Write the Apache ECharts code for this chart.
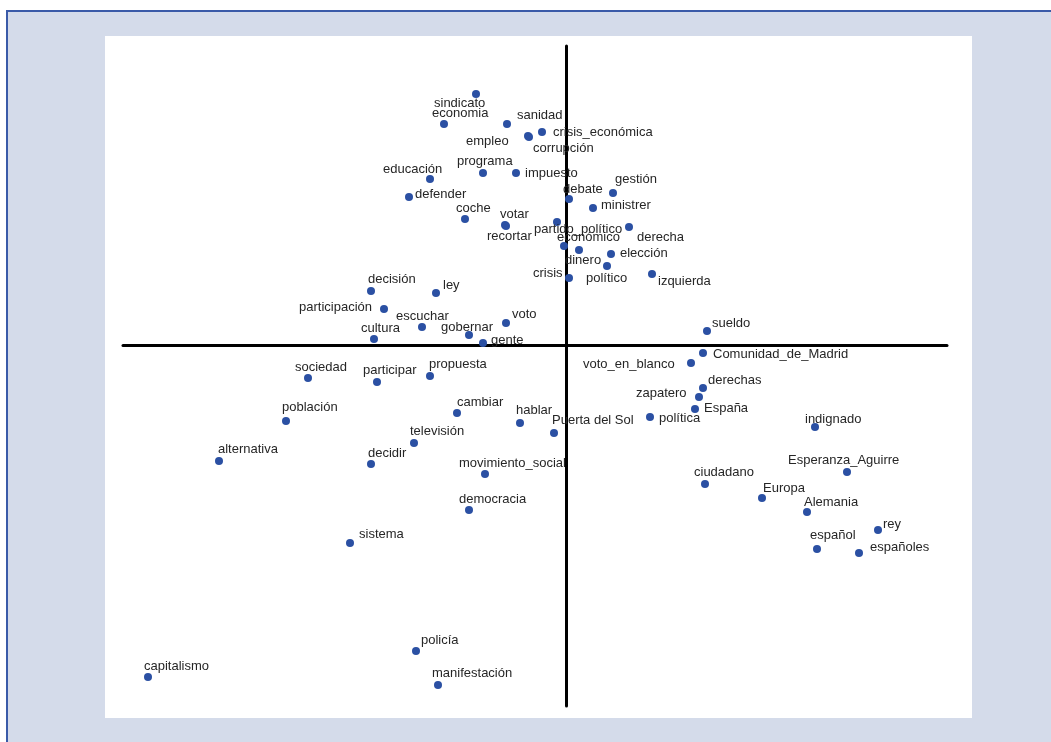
<!DOCTYPE html>
<html>
<head>
<meta charset="utf-8">
<title>Análisis de correspondencias</title>
<script src="https://cdn.jsdelivr.net/npm/echarts@6/dist/echarts.min.js"></script>
<style>
  html, body { margin: 0; padding: 0; background: #fff; overflow: hidden; }
  #frame {
    position: absolute; left: 6px; top: 10px; width: 1100px; height: 800px;
    background: #d4dbea; border-left: 2px solid #3a5aa8; border-top: 2px solid #3a5aa8;
  }
  #chart { position: absolute; left: 105px; top: 36px; width: 867px; height: 682px; background: #fff; }
</style>
</head>
<body>
<div id="frame"></div>
<div id="chart"></div>
<script>
  // palabras y coordenadas en las dos primeras dimensiones
  var words = [
    'sindicato', 'economia', 'sanidad', 'crisis_económica', 'empleo', 'corrupción',
    'educación', 'programa', 'impuesto', 'gestión', 'debate', 'ministrer', 'defender',
    'coche', 'votar', 'recortar', 'partido_político', 'derecha', 'económico', 'dinero',
    'elección', 'político', 'crisis', 'izquierda', 'decisión', 'ley', 'participación',
    'escuchar', 'voto', 'cultura', 'gobernar', 'gente', 'sociedad', 'participar',
    'propuesta', 'sueldo', 'Comunidad_de_Madrid', 'voto_en_blanco', 'derechas', 'zapatero',
    'España', 'política', 'Puerta del Sol', 'indignado', 'población', 'cambiar', 'hablar',
    'televisión', 'alternativa', 'decidir', 'movimiento_social', 'democracia', 'sistema',
    'Esperanza_Aguirre', 'ciudadano', 'Europa', 'Alemania', 'rey', 'español', 'españoles',
    'capitalismo', 'policía', 'manifestación'
  ];
  var dim1 = [
    -0.90, -1.22, -0.59, -0.24, -0.38, -0.37,
    -1.36, -0.83, -0.50, 0.47, 0.03, 0.27, -1.57,
    -1.01, -0.61, -0.60, -0.09, 0.63, -0.02, 0.13,
    0.45, 0.41, 0.03, 0.86, -1.95, -1.30, -1.82,
    -1.44, -0.60, -1.92, -0.97, -0.83, -2.58, -1.89,
    -1.36, 1.41, 1.37, 1.25, 1.37, 1.33,
    1.29, 0.84, -0.12, 2.49, -2.80, -1.09, -0.46,
    -1.52, -3.47, -1.95, -0.81, -0.97, -2.16,
    2.81, 1.39, 1.96, 2.41, 3.12, 2.51, 2.93,
    -4.18, -1.50, -1.28
  ];
  var dim2 = [
    2.51, 2.21, 2.21, 2.13, 2.09, 2.08,
    1.66, 1.72, 1.72, 1.52, 1.46, 1.37, 1.48,
    1.26, 1.20, 1.19, 1.23, 1.18, 0.99, 0.95,
    0.91, 0.79, 0.67, 0.71, 0.54, 0.52, 0.36,
    0.18, 0.22, 0.06, 0.10, 0.02, -0.33, -0.37,
    -0.31, 0.14, -0.08, -0.18, -0.43, -0.52,
    -0.64, -0.72, -0.88, -0.82, -0.76, -0.68, -0.78,
    -0.98, -1.16, -1.19, -1.29, -1.65, -1.98,
    -1.27, -1.39, -1.53, -1.67, -1.85, -2.04, -2.08,
    -3.32, -3.06, -3.40
  ];

  // dónde cae cada etiqueta respecto a su punto (px: borde izquierdo, centro vertical)
  var labelOffsets = [
    [-42, 9], [-12, -11], [10, -9], [11, 0], [-62, 5], [4, 11],
    [-47, -10], [-26, -12], [9, 0], [2, -14], [-6, -10], [8, -3], [6, -3],
    [-9, -11], [-5, -11], [-19, 10], [-23, 7], [8, 10], [-7, -9], [-14, 10],
    [9, -1], [-21, 12], [-36, -5], [6, 7], [-3, -12], [7, -8], [-85, -2],
    [-26, -11], [6, -9], [-13, -11], [-28, -8], [8, -3], [-13, -11], [-14, -12],
    [-1, -12], [5, -8], [10, 1], [-108, 1], [5, -8], [-63, -4],
    [9, -1], [9, 1], [-2, -13], [-10, -8], [-4, -14], [0, -11], [-4, -13],
    [-4, -12], [-1, -12], [-3, -11], [-26, -11], [-10, -11], [9, -9],
    [-59, -12], [-11, -12], [1, -10], [-3, -10], [5, -6], [-7, -14], [11, -6],
    [-4, -11], [5, -11], [-6, -12]
  ];

  var symbolSize = 8;

  var points = words.map(function (w, i) {
    var off = labelOffsets[i];
    return {
      name: w,
      value: [dim1[i], dim2[i]],
      // la posición de la etiqueta se cuenta desde la esquina superior izquierda del símbolo
      label: { position: [off[0] + symbolSize / 2, off[1] + symbolSize / 2] }
    };
  });

  var chart = echarts.init(document.getElementById('chart'), null, { renderer: 'canvas' });
  chart.setOption({
    animation: false,
    grid: { left: 18, top: 10, width: 824, height: 660 },
    xAxis: {
      type: 'value', min: -4.43, max: 3.81,
      axisLine: { onZero: true, lineStyle: { color: '#000', width: 3 } },
      axisTick: { show: false }, axisLabel: { show: false }, splitLine: { show: false }
    },
    yAxis: {
      type: 'value', min: -3.61, max: 2.99,
      axisLine: { onZero: true, lineStyle: { color: '#000', width: 3 } },
      axisTick: { show: false }, axisLabel: { show: false }, splitLine: { show: false }
    },
    series: [{
      type: 'scatter',
      symbolSize: symbolSize,
      itemStyle: { color: '#2b50a3', opacity: 1 },
      label: {
        show: true,
        align: 'left',
        verticalAlign: 'middle',
        formatter: '{b}',
        color: '#262626',
        fontSize: 13,
        fontFamily: 'Liberation Sans, Arial, sans-serif'
      },
      labelLayout: { hideOverlap: false },
      data: points
    }]
  });
</script>
</body>
</html>
